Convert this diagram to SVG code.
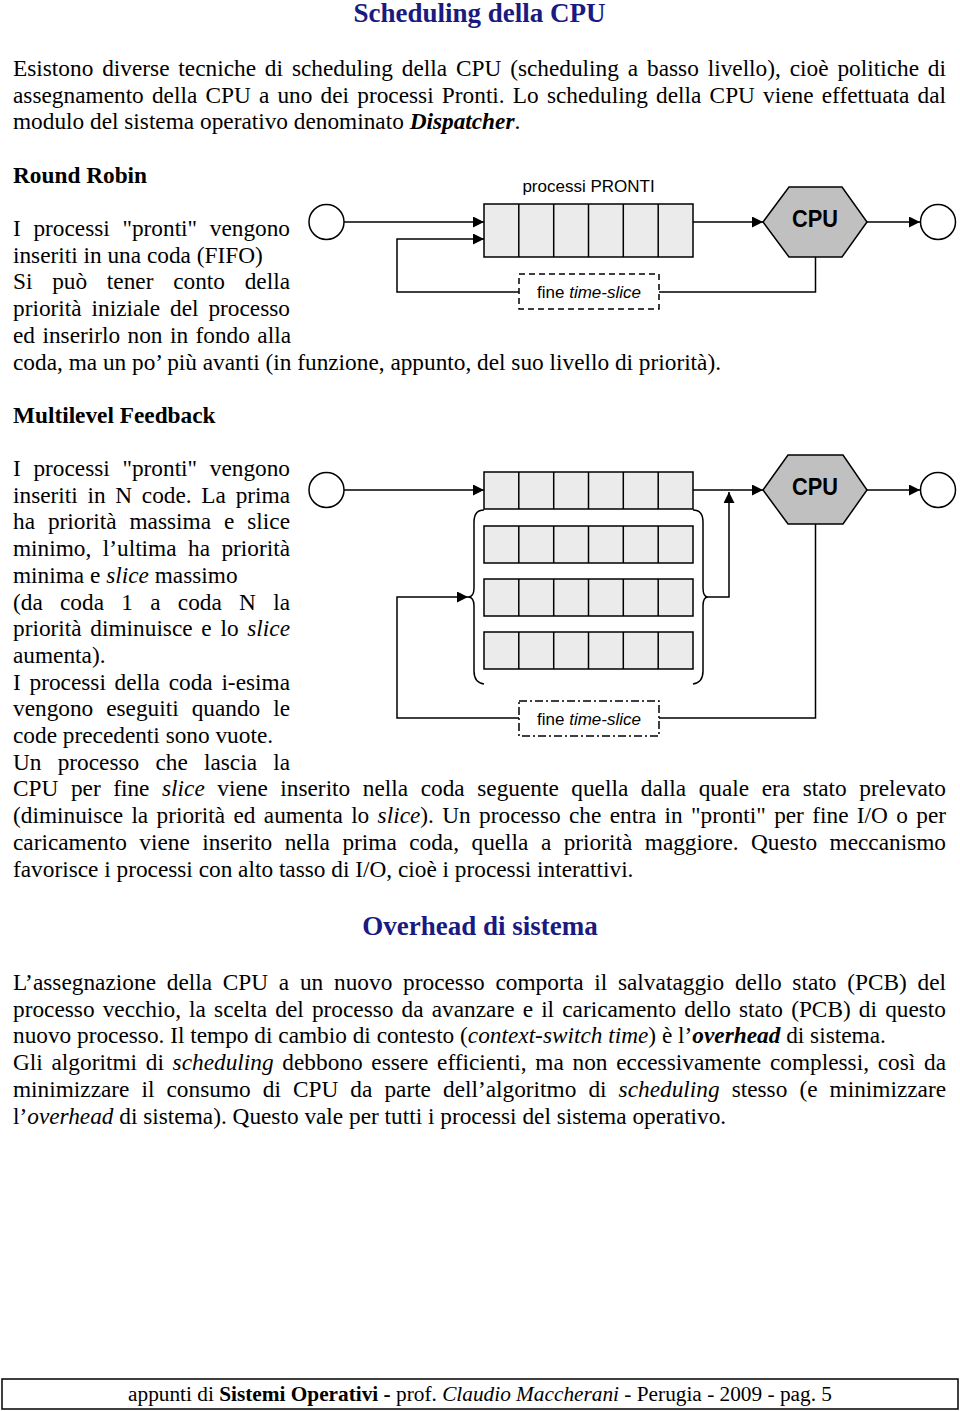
<svg xmlns="http://www.w3.org/2000/svg" width="960" height="1411" viewBox="0 0 960 1411">
<style>
.t{font-family:"Liberation Serif","Times New Roman",serif;font-size:23.3px;fill:#000}
.h{font-family:"Liberation Serif","Times New Roman",serif;font-size:27px;font-weight:bold;fill:#1a1a80}
.b{font-weight:bold}
.i{font-style:italic}
.bi{font-weight:bold;font-style:italic}
.lab{font-family:"Liberation Sans",Arial,sans-serif;font-size:17px;fill:#000}
.cpu{font-family:"Liberation Sans",Arial,sans-serif;font-size:23px;font-weight:bold;fill:#000}
.q{fill:#ebebeb;stroke:#000;stroke-width:1.5}
.dv{stroke:#000;stroke-width:1.5}
.hex{fill:#c0c0c0;stroke:#000;stroke-width:1.5}
.cir{fill:#fff;stroke:#000;stroke-width:1.5}
.ln{fill:none;stroke:#000;stroke-width:1.5}
.dash{fill:#fff;stroke:#000;stroke-width:1.5;stroke-dasharray:6 4}
.dashdot{fill:#fff;stroke:#000;stroke-width:1.5;stroke-dasharray:8 3 2 3}
</style>
<defs>
<marker id="arr" markerUnits="userSpaceOnUse" markerWidth="12" markerHeight="11" refX="11" refY="5.5" orient="auto">
<path d="M0,0 L11,5.5 L0,11 Z" fill="#000"/>
</marker>
</defs>
<rect width="960" height="1411" fill="#fff"/>

<text class="h" x="479.5" y="22" text-anchor="middle">Scheduling della CPU</text>

<text class="t" x="13" y="76" word-spacing="3.07" textLength="933" lengthAdjust="spacing">Esistono diverse tecniche di scheduling della CPU (scheduling a basso livello), cioè politiche di</text>
<text class="t" x="13" y="102.7" word-spacing="2.34" textLength="933" lengthAdjust="spacing">assegnamento della CPU a uno dei processi Pronti. Lo scheduling della CPU viene effettuata dal</text>
<text class="t" x="13" y="129.4">modulo del sistema operativo denominato <tspan class="bi">Dispatcher</tspan>.</text>

<text class="t b" x="13" y="183">Round Robin</text>
<text class="t" x="13" y="236" word-spacing="6.8" textLength="277" lengthAdjust="spacing">I processi "pronti" vengono</text>
<text class="t" x="13" y="262.7">inseriti in una coda (FIFO)</text>
<text class="t" x="13" y="289.4" word-spacing="13.9" textLength="277" lengthAdjust="spacing">Si può tener conto della</text>
<text class="t" x="13" y="316.1" word-spacing="4.1" textLength="277" lengthAdjust="spacing">priorità iniziale del processo</text>
<text class="t" x="13" y="342.8" word-spacing="1.6" textLength="278" lengthAdjust="spacing">ed inserirlo non in fondo alla</text>
<text class="t" x="13" y="369.5">coda, ma un po’ più avanti (in funzione, appunto, del suo livello di priorità).</text>

<text class="t b" x="13" y="423">Multilevel Feedback</text>
<text class="t" x="13" y="476" word-spacing="6.8" textLength="277" lengthAdjust="spacing">I processi "pronti" vengono</text>
<text class="t" x="13" y="502.7" word-spacing="3.9" textLength="277" lengthAdjust="spacing">inseriti in N code. La prima</text>
<text class="t" x="13" y="529.4" word-spacing="7.1" textLength="277" lengthAdjust="spacing">ha priorità massima e slice</text>
<text class="t" x="13" y="556.1" word-spacing="5.6" textLength="277" lengthAdjust="spacing">minimo, l’ultima ha priorità</text>
<text class="t" x="13" y="582.8">minima e <tspan class="i">slice</tspan> massimo</text>
<text class="t" x="13" y="609.5" word-spacing="11.45" textLength="277" lengthAdjust="spacing">(da coda 1 a coda N la</text>
<text class="t" x="13" y="636.2" word-spacing="2.9" textLength="277" lengthAdjust="spacing">priorità diminuisce e lo <tspan class="i">slice</tspan></text>
<text class="t" x="13" y="662.9">aumenta).</text>
<text class="t" x="13" y="689.6" word-spacing="2.9" textLength="277" lengthAdjust="spacing">I processi della coda i-esima</text>
<text class="t" x="13" y="716.3" word-spacing="7.1" textLength="277" lengthAdjust="spacing">vengono eseguiti quando le</text>
<text class="t" x="13" y="743">code precedenti sono vuote.</text>
<text class="t" x="13" y="769.7" word-spacing="10.4" textLength="277" lengthAdjust="spacing">Un processo che lascia la</text>
<text class="t" x="13" y="796.4" word-spacing="6.74" textLength="933" lengthAdjust="spacing">CPU per fine <tspan class="i">slice</tspan> viene inserito nella coda seguente quella dalla quale era stato prelevato</text>
<text class="t" x="13" y="823.1" word-spacing="2.53" textLength="933" lengthAdjust="spacing">(diminuisce la priorità ed aumenta lo <tspan class="i">slice</tspan>). Un processo che entra in "pronti" per fine I/O o per</text>
<text class="t" x="13" y="849.8" word-spacing="6.64" textLength="933" lengthAdjust="spacing">caricamento viene inserito nella prima coda, quella a priorità maggiore. Questo meccanismo</text>
<text class="t" x="13" y="876.5">favorisce i processi con alto tasso di I/O, cioè i processi interattivi.</text>

<text class="h" x="480" y="935" text-anchor="middle">Overhead di sistema</text>
<text class="t" x="13" y="990" word-spacing="4.85" textLength="933" lengthAdjust="spacing">L’assegnazione della CPU a un nuovo processo comporta il salvataggio dello stato (PCB) del</text>
<text class="t" x="13" y="1016.7" word-spacing="2.33" textLength="933" lengthAdjust="spacing">processo vecchio, la scelta del processo da avanzare e il caricamento dello stato (PCB) di questo</text>
<text class="t" x="13" y="1043.4">nuovo processo. Il tempo di cambio di contesto (<tspan class="i">context-switch time</tspan>) è l’<tspan class="bi">overhead</tspan> di sistema.</text>
<text class="t" x="13" y="1070.1" word-spacing="2.9" textLength="933" lengthAdjust="spacing">Gli algoritmi di <tspan class="i">scheduling</tspan> debbono essere efficienti, ma non eccessivamente complessi, così da</text>
<text class="t" x="13" y="1096.8" word-spacing="6.24" textLength="933" lengthAdjust="spacing">minimizzare il consumo di CPU da parte dell’algoritmo di <tspan class="i">scheduling</tspan> stesso (e minimizzare</text>
<text class="t" x="13" y="1123.5">l’<tspan class="i">overhead</tspan> di sistema). Questo vale per tutti i processi del sistema operativo.</text>

<rect x="2" y="1379" width="956" height="30" fill="none" stroke="#000" stroke-width="1.5"/>
<text class="t" x="480" y="1401" text-anchor="middle" style="font-size:21.3px">appunti di <tspan class="b">Sistemi Operativi -</tspan> prof. <tspan class="i">Claudio Maccherani</tspan> - Perugia - 2009 - pag. 5</text>

<!-- Round Robin diagram -->
<g id="connectors-rr">
<line class="ln" x1="344" y1="222" x2="484" y2="222" marker-end="url(#arr)"/>
<line class="ln" x1="693" y1="222" x2="763" y2="222" marker-end="url(#arr)"/>
<line class="ln" x1="867" y1="222" x2="920" y2="222" marker-end="url(#arr)"/>
<path class="ln" d="M815.5,257 V292 H659"/>
<path class="ln" d="M519,292 H397 V239 H484" marker-end="url(#arr)"/>
</g>
<g id="rr-in">
<circle class="cir" cx="326.5" cy="222" r="17.5"/>
</g>
<g id="rr-queue">
<text class="lab" x="588.5" y="192" text-anchor="middle">processi PRONTI</text>
<rect class="q" x="484" y="204" width="209" height="53"/>
<path class="dv" d="M518.8,204V257M553.7,204V257M588.5,204V257M623.3,204V257M658.2,204V257"/>
</g>
<g id="rr-cpu">
<polygon class="hex" points="763,222 789,187 842,187 867,222 842,257 789,257"/>
<text class="cpu" x="815" y="227" text-anchor="middle" textLength="46" lengthAdjust="spacingAndGlyphs">CPU</text>
</g>
<g id="rr-out">
<circle class="cir" cx="938" cy="222" r="17.5"/>
</g>
<g id="rr-timeslice">
<rect class="dash" x="519" y="274" width="140" height="35"/>
<text class="lab" x="589" y="298" text-anchor="middle">fine <tspan font-style="italic">time-slice</tspan></text>
</g>

<!-- Multilevel Feedback diagram -->
<g id="connectors-ml">
<line class="ln" x1="344" y1="490" x2="484" y2="490" marker-end="url(#arr)"/>
<line class="ln" x1="693" y1="490" x2="763" y2="490" marker-end="url(#arr)"/>
<line class="ln" x1="867" y1="490" x2="920" y2="490" marker-end="url(#arr)"/>
<path class="ln" d="M815.5,524 V718 H659"/>
<path class="ln" d="M519,718 H397 V597 H468" marker-end="url(#arr)"/>
<path class="ln" d="M708,597 H729 V492" marker-end="url(#arr)"/>
</g>
<g id="ml-in">
<circle class="cir" cx="326.5" cy="490" r="17.5"/>
</g>
<g id="ml-queues">
<rect class="q" x="484" y="472" width="209" height="37"/>
<path class="dv" d="M518.8,472V509M553.7,472V509M588.5,472V509M623.3,472V509M658.2,472V509"/>
<rect class="q" x="484" y="526" width="209" height="37"/>
<path class="dv" d="M518.8,526V563M553.7,526V563M588.5,526V563M623.3,526V563M658.2,526V563"/>
<rect class="q" x="484" y="579" width="209" height="37"/>
<path class="dv" d="M518.8,579V616M553.7,579V616M588.5,579V616M623.3,579V616M658.2,579V616"/>
<rect class="q" x="484" y="632" width="209" height="37"/>
<path class="dv" d="M518.8,632V669M553.7,632V669M588.5,632V669M623.3,632V669M658.2,632V669"/>
<path class="ln" d="M484,510 C477,510 474,514 474,522 V588 C474,594 472,597 468,597 C472,597 474,600 474,606 V671 C474,679 477,683 484,684"/>
<path class="ln" d="M693,510 C700,510 703,514 703,522 V588 C703,594 705,597 708,597 C705,597 703,600 703,606 V671 C703,679 700,683 693,684"/>
</g>
<g id="ml-cpu">
<polygon class="hex" points="763,490 788,455 843,455 867,490 843,524 788,524"/>
<text class="cpu" x="815" y="494.5" text-anchor="middle" textLength="46" lengthAdjust="spacingAndGlyphs">CPU</text>
</g>
<g id="ml-out">
<circle class="cir" cx="938" cy="490" r="17.5"/>
</g>
<g id="ml-timeslice">
<rect class="dashdot" x="519" y="701" width="140" height="35"/>
<text class="lab" x="589" y="725" text-anchor="middle">fine <tspan font-style="italic">time-slice</tspan></text>
</g>
</svg>
